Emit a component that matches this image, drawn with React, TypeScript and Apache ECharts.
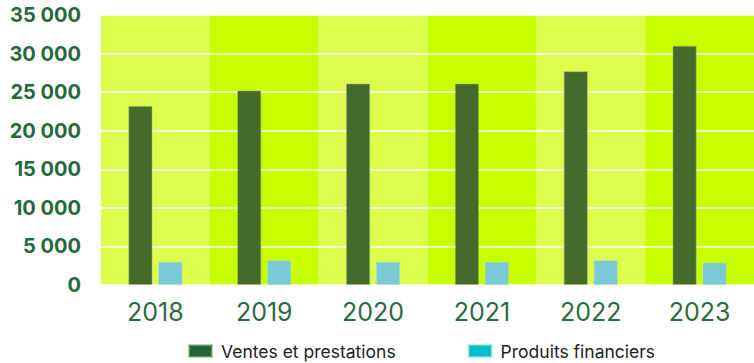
import React, { useEffect, useRef } from "react";
import * as echarts from "echarts";

const years = ["2018", "2019", "2020", "2021", "2022", "2023"];
const ventes = [23200, 25200, 26100, 26100, 27700, 31000];
const produits = [3000, 3200, 3000, 3000, 3200, 2900];
const seriesNames = ["Ventes et prestations", "Produits financiers"];

const fmt = (v: number) => String(v).replace(/\B(?=(\d{3})+(?!\d))/g, " ");

export default function App() {
  const ref = useRef<HTMLDivElement>(null);
  useEffect(() => {
    if (!ref.current) return;
    const chart = echarts.init(ref.current, undefined, { renderer: "svg" });
    chart.setOption({
      animation: false,
      backgroundColor: "#ffffff",
      grid: { left: 101, right: 0, top: 15, bottom: 78, containLabel: false },
      legend: {
        left: 183,
        top: 336,
        itemWidth: 23,
        itemHeight: 12,
        itemGap: 72,
        icon: "rect",
        textStyle: {
          fontFamily: "Inter",
          fontSize: 17.5,
          lineHeight: 20,
          color: "#222222",
          padding: [0, 0, 0, 4],
        },
        data: [
          { name: seriesNames[0], itemStyle: { color: "#23643a" } },
          { name: seriesNames[1], itemStyle: { color: "#00c0d0" } },
        ],
      },
      xAxis: {
        type: "category",
        data: years,
        z: 0,
        axisLine: { show: false },
        axisTick: { show: false },
        splitLine: { show: false },
        splitArea: { show: true, areaStyle: { color: ["#dcfd4b", "#c8ff00"] } },
        axisLabel: {
          margin: 14,
          fontFamily: "Inter",
          fontSize: 25,
          color: "#2d6b3c",
        },
      },
      yAxis: {
        type: "value",
        min: 0,
        max: 35000,
        interval: 5000,
        z: 1,
        axisLine: { show: false },
        axisTick: { show: false },
        splitLine: { show: true, lineStyle: { color: "#ffffff", width: 1.5 } },
        axisLabel: {
          margin: 20,
          fontFamily: "Inter",
          fontWeight: "bold",
          fontSize: 20,
          color: "#246a3a",
          formatter: (v: number) => fmt(v),
        },
      },
      series: [
        {
          name: seriesNames[0],
          type: "bar",
          data: ventes,
          barWidth: 24,
          barGap: "25%",
          z: 3,
          itemStyle: { color: "#456b2c", borderColor: "rgba(150,180,120,0.6)", borderWidth: 0.8 },
        },
        {
          name: seriesNames[1],
          type: "bar",
          data: produits,
          barWidth: 24,
          z: 3,
          itemStyle: { color: "#7bc9d4", borderColor: "rgba(170,220,210,0.6)", borderWidth: 0.8 },
        },
      ],
    });
    return () => chart.dispose();
  }, []);
  return <div ref={ref} style={{ width: 754, height: 363, position: "absolute", left: 0, top: 0 }} />;
}
